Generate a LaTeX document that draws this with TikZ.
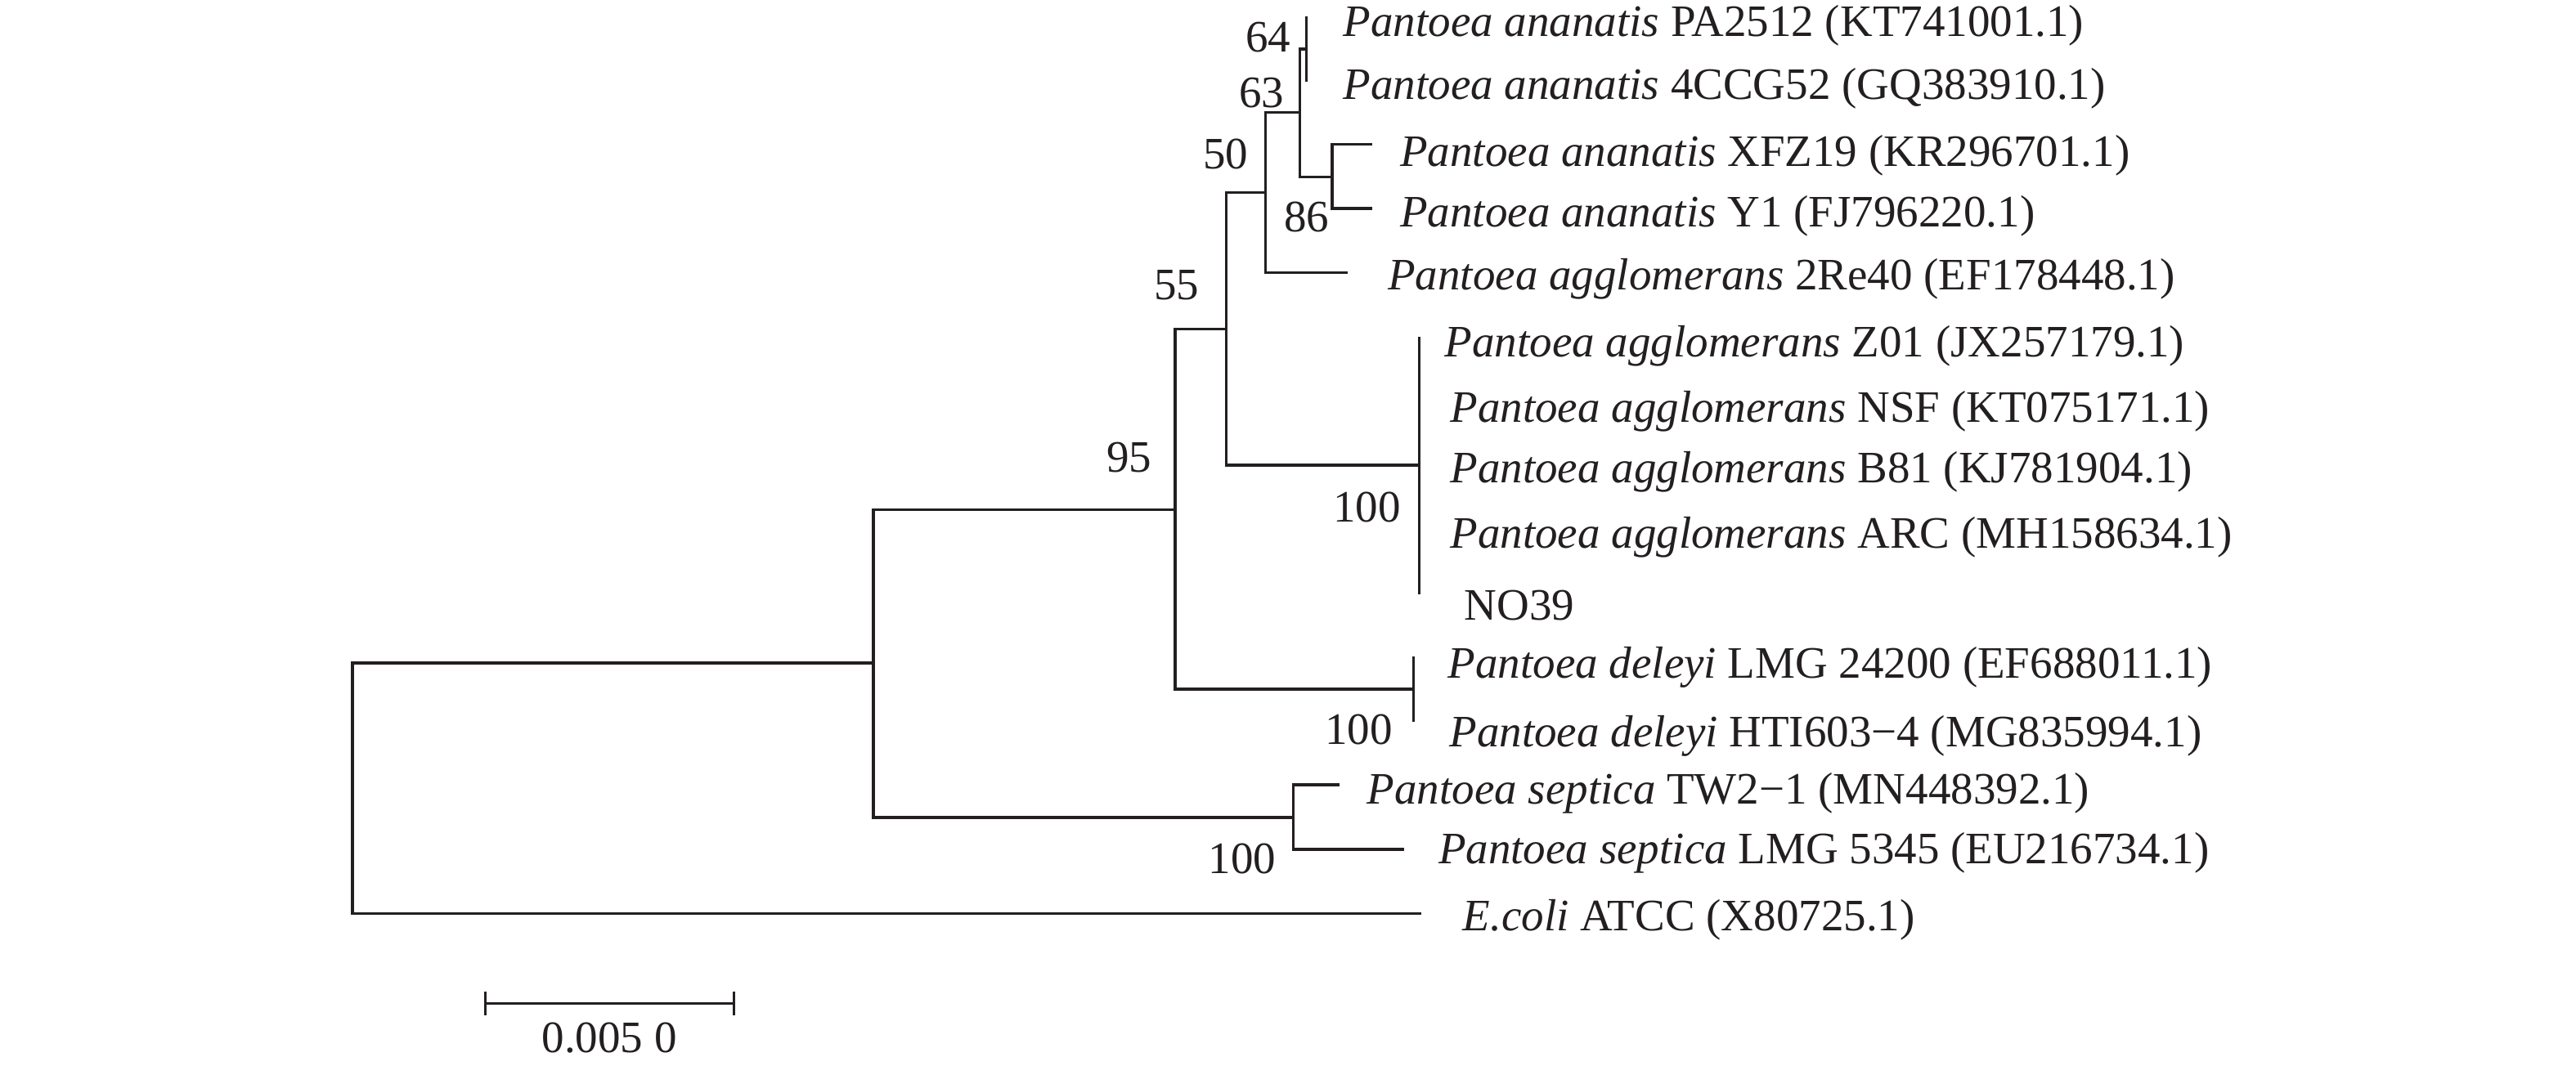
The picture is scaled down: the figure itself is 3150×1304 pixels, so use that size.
\documentclass[tikz,border=0pt]{standalone}
\usepackage{fontspec}
\setmainfont{Liberation Serif}
\definecolor{ink}{HTML}{231F20}
\begin{document}
\begin{tikzpicture}[x=0.1mm,y=-0.1mm,
  br/.style={line width=0.35mm, draw=ink},
  leaf/.style={anchor=base west, inner sep=0pt, text=ink, font=\fontsize{15.65}{18}\selectfont},
  boot/.style={anchor=base east, inner sep=0pt, text=ink, font=\fontsize{15.65}{18}\selectfont},
  sbl/.style={anchor=base, inner sep=0pt, text=ink, font=\fontsize{15.65}{18}\selectfont}]
\useasboundingbox (0,0) rectangle (3150,1304);
% internal nodes (x of vertical line, y where the parent branch joins)
\coordinate (R) at (431,964);
\coordinate (A) at (1068,811);
\coordinate (B) at (1437,623.5);
\coordinate (C) at (1499.3,402.3);
\coordinate (F) at (1547.7,235.7);
\coordinate (H) at (1589.7,137.7);
\coordinate (I) at (1597.3,60);
\coordinate (J) at (1629,216.7);
\coordinate (G) at (1735.3,569);
\coordinate (D) at (1728.3,843);
\coordinate (S) at (1581.7,1000);
% tips
\coordinate (tPA) at (1597.3,20);
\coordinate (tCC) at (1597.3,100);
\coordinate (tXF) at (1678.3,176.7);
\coordinate (tY1) at (1678.3,255);
\coordinate (tRe) at (1648.3,333.3);
\coordinate (tG1) at (1735.3,411.7);
\coordinate (tG2) at (1735.3,726.7);
\coordinate (tD1) at (1728.3,803.3);
\coordinate (tD2) at (1728.3,883.3);
\coordinate (tTW) at (1638.3,960);
\coordinate (tLM) at (1716.7,1039);
\coordinate (tEC) at (1737.7,1117.5);
% branches
\draw[br] (R) |- (A);
\draw[br] (R) |- (tEC);
\draw[br] (A) |- (B);
\draw[br] (A) |- (S);
\draw[br] (B) |- (C);
\draw[br] (B) |- (D);
\draw[br] (C) |- (F);
\draw[br] (C) |- (G);
\draw[br] (F) |- (H);
\draw[br] (F) |- (tRe);
\draw[br] (H) |- (I);
\draw[br] (H) |- (J);
\draw[br] (I) |- (tPA);
\draw[br] (I) |- (tCC);
\draw[br] (J) |- (tXF);
\draw[br] (J) |- (tY1);
\draw[br] (G) |- (tG1);
\draw[br] (G) |- (tG2);
\draw[br] (D) |- (tD1);
\draw[br] (D) |- (tD2);
\draw[br] (S) |- (tTW);
\draw[br] (S) |- (tLM);
% leaf labels
\node[leaf] (l1) at (1642,45) {\textit{Pantoea ananatis} PA2512 (KT741001.1)};
\node[leaf] (l2) at (1642,121.7) {\textit{Pantoea ananatis} 4CCG52 (GQ383910.1)};
\node[leaf] (l3) at (1711.5,203.3) {\textit{Pantoea ananatis} XFZ19 (KR296701.1)};
\node[leaf] (l4) at (1711.5,277.7) {\textit{Pantoea ananatis} Y1 (FJ796220.1)};
\node[leaf] (l5) at (1696.5,355) {\textit{Pantoea agglomerans} 2Re40 (EF178448.1)};
\node[leaf] (l6) at (1766,436.7) {\textit{Pantoea agglomerans} Z01 (JX257179.1)};
\node[leaf] (l7) at (1772.7,516.7) {\textit{Pantoea agglomerans} NSF (KT075171.1)};
\node[leaf] (l8) at (1772.7,590.7) {\textit{Pantoea agglomerans} B81 (KJ781904.1)};
\node[leaf] (l9) at (1772.7,670) {\textit{Pantoea agglomerans} ARC (MH158634.1)};
\node[leaf] (l10) at (1790,758.3) {NO39};
\node[leaf] (l11) at (1770,829) {\textit{Pantoea deleyi} LMG 24200 (EF688011.1)};
\node[leaf] (l12) at (1771.7,913.3) {\textit{Pantoea deleyi} HTI603−4 (MG835994.1)};
\node[leaf] (l13) at (1671,983.3) {\textit{Pantoea septica} TW2−1 (MN448392.1)};
\node[leaf] (l14) at (1758.3,1056.7) {\textit{Pantoea septica} LMG 5345 (EU216734.1)};
\node[leaf] (l15) at (1788,1138.3) {\textit{E.coli} ATCC (X80725.1)};
% bootstrap values
\node[boot] (b64) at (1579,63.3) {64};
\node[boot] (b63) at (1570.7,131.7) {63};
\node[boot] (b50) at (1526.7,206.7) {50};
\node[boot] (b86) at (1625.7,283.3) {86};
\node[boot] (b55) at (1467,367) {55};
\node[boot] (b95) at (1409,577) {95};
\node[boot] (b100a) at (1713.3,638) {100};
\node[boot] (b100d) at (1703.3,910) {100};
\node[boot] (b100s) at (1560.7,1068) {100};
% scale bar
\coordinate (sb1) at (593.3,1227.3);
\coordinate (sb2) at (897.3,1227.3);
\draw[br] (sb1) -- (sb2);
\draw[br] ([yshift=-1.42mm]sb1) -- ([yshift=1.42mm]sb1);
\draw[br] ([yshift=-1.42mm]sb2) -- ([yshift=1.42mm]sb2);
\node[sbl] (sbt) at (745,1287.3) {0.005 0};
\end{tikzpicture}
\end{document}
